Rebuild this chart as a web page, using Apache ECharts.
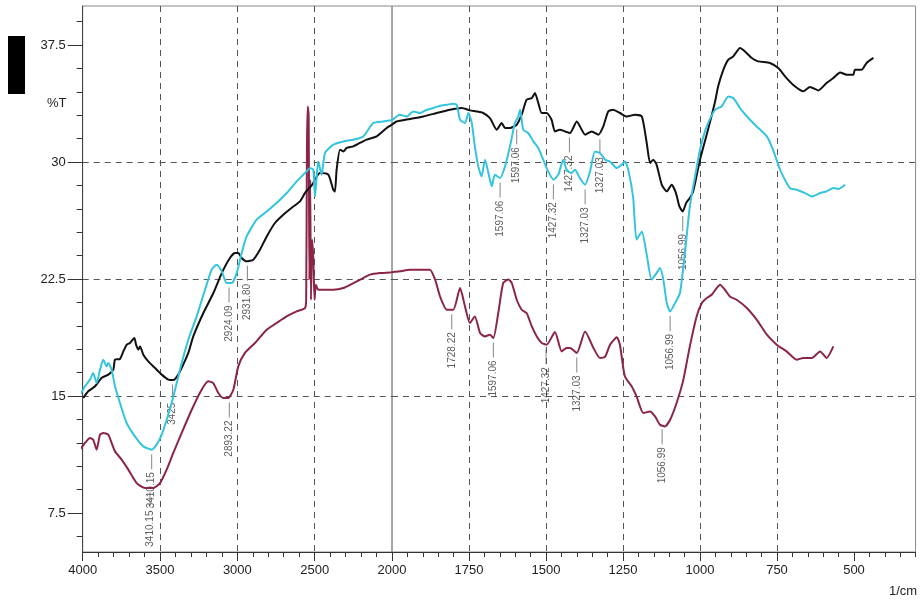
<!DOCTYPE html>
<html>
<head>
<meta charset="utf-8">
<script src="https://cdn.jsdelivr.net/npm/echarts@6/dist/echarts.min.js"></script>
<style>
html, body { margin: 0; padding: 0; background: #fff; }
#chart { width: 920px; height: 601px; }
</style>
</head>
<body>
<div id="chart"></div>
<script>
// spectra, [wavenumber 1/cm, %T]
var blackData = [
    [3996, 14.87], [3964, 15.30], [3920, 15.62], [3877, 16.17], [3834, 16.37], [3802, 16.69], [3791, 17.33], [3759, 17.37],
    [3737, 17.86], [3715, 18.29], [3694, 18.40], [3666, 18.72], [3655, 18.29], [3640, 17.97], [3629, 18.18], [3608, 17.65],
    [3576, 17.22], [3532, 16.79], [3489, 16.37], [3446, 16.05], [3414, 16.02], [3382, 16.37], [3350, 17.01], [3317, 17.76],
    [3285, 18.82], [3220, 20.32], [3155, 21.60], [3101, 22.88], [3048, 23.85], [3015, 24.17], [2994, 24.17], [2972, 23.85],
    [2940, 23.63], [2897, 23.74], [2854, 24.38], [2810, 25.23], [2757, 26.09], [2703, 26.62], [2638, 27.15], [2595, 27.47],
    [2563, 28.01], [2517, 28.54], [2466, 29.29], [2412, 29.19], [2380, 28.22], [2369, 28.10], [2358, 29.51], [2336, 30.79],
    [2315, 30.68], [2293, 30.90], [2250, 31.00], [2207, 31.22], [2164, 31.43], [2099, 31.64], [2034, 32.18], [2000, 32.39],
    [1985, 32.60], [1942, 32.76], [1898, 32.92], [1855, 33.14], [1812, 33.35], [1774, 33.46], [1747, 33.31], [1725, 33.24],
    [1704, 33.14], [1682, 32.82], [1660, 32.07], [1644, 32.50], [1633, 32.18], [1617, 32.18], [1595, 32.39], [1579, 33.03],
    [1563, 33.99], [1546, 34.10], [1536, 34.42], [1525, 33.78], [1514, 33.14], [1498, 33.14], [1482, 32.71], [1471, 31.96],
    [1455, 32.07], [1438, 31.96], [1422, 31.86], [1400, 32.60], [1384, 32.07], [1373, 31.75], [1352, 31.96], [1330, 31.75],
    [1314, 32.28], [1298, 33.24], [1282, 33.35], [1260, 33.14], [1238, 32.92], [1211, 33.03], [1189, 32.92], [1173, 31.22],
    [1162, 29.94], [1152, 30.15], [1141, 29.83], [1124, 28.54], [1108, 28.12], [1092, 28.54], [1078, 28.01], [1067, 27.15],
    [1056, 26.83], [1045, 27.37], [1033, 27.69], [1022, 28.12], [1000, 30.15], [974, 32.07], [951, 33.88], [941, 34.85],
    [924, 35.92], [908, 36.56], [892, 36.77], [870, 37.31], [854, 37.09], [832, 36.67], [811, 36.45], [773, 36.35],
    [746, 36.02], [719, 35.38], [692, 34.85], [665, 34.53], [643, 34.81], [616, 34.59], [589, 35.06], [567, 35.38],
    [545, 35.74], [524, 35.60], [502, 35.60], [497, 35.92], [475, 35.92], [459, 36.35], [437, 36.67]
];
var cyanData = [
    [4168, 13.48], [4125, 14.12], [4082, 14.65], [4050, 14.87], [4018, 15.08], [3985, 15.62], [3953, 16.05], [3932, 16.47],
    [3910, 15.83], [3888, 16.69], [3867, 17.33], [3845, 16.90], [3835, 17.12], [3813, 16.69], [3791, 15.62], [3759, 14.55],
    [3716, 13.27], [3662, 12.41], [3608, 11.77], [3554, 11.56], [3522, 11.88], [3489, 12.52], [3457, 13.48], [3425, 14.55],
    [3392, 15.83], [3360, 17.12], [3317, 18.61], [3263, 20.10], [3209, 21.81], [3166, 23.10], [3134, 23.42], [3101, 22.99],
    [3069, 22.24], [3037, 22.24], [3004, 22.88], [2972, 24.17], [2940, 25.23], [2875, 26.30], [2810, 26.83], [2746, 27.37],
    [2681, 28.01], [2616, 28.76], [2552, 29.40], [2530, 29.61], [2509, 29.51], [2498, 27.79], [2487, 29.08], [2477, 30.04],
    [2455, 29.19], [2433, 30.58], [2380, 31.11], [2315, 31.32], [2250, 31.43], [2186, 31.64], [2121, 32.50], [2056, 32.60],
    [2000, 32.68], [1974, 33.03], [1952, 32.92], [1931, 33.24], [1909, 33.14], [1887, 33.35], [1866, 33.46], [1844, 33.61],
    [1822, 33.67], [1801, 33.74], [1790, 33.67], [1779, 32.71], [1763, 32.50], [1752, 33.14], [1741, 32.50], [1731, 31.00],
    [1720, 29.72], [1709, 29.08], [1698, 30.15], [1687, 29.29], [1676, 28.44], [1666, 29.19], [1649, 28.97], [1633, 29.72],
    [1617, 31.00], [1601, 32.50], [1590, 32.92], [1584, 33.35], [1574, 32.07], [1558, 31.86], [1541, 31.32], [1525, 30.90],
    [1509, 30.15], [1493, 29.40], [1476, 28.87], [1460, 29.19], [1444, 30.15], [1433, 29.51], [1417, 29.29], [1406, 29.51],
    [1390, 28.97], [1373, 28.54], [1357, 29.40], [1341, 30.68], [1325, 30.58], [1308, 30.15], [1292, 30.02], [1270, 29.61],
    [1254, 29.83], [1244, 30.04], [1233, 29.51], [1217, 27.71], [1206, 25.02], [1189, 25.53], [1173, 24.06], [1157, 22.46],
    [1141, 22.88], [1130, 23.20], [1119, 22.46], [1108, 20.96], [1097, 20.42], [1081, 20.96], [1065, 21.60], [1049, 24.17],
    [1033, 27.15], [1016, 29.08], [1000, 30.79], [978, 32.28], [951, 33.35], [930, 33.56], [908, 34.20], [892, 34.10],
    [870, 33.46], [843, 32.82], [816, 32.28], [783, 31.64], [763, 30.79], [740, 29.51], [708, 28.33], [686, 28.22],
    [659, 28.01], [637, 27.79], [610, 28.01], [589, 28.12], [567, 28.33], [551, 28.27], [529, 28.54]
];
var maroonData = [
    [4158, 10.17], [4114, 10.71], [4071, 11.13], [4029, 11.45], [3985, 11.99], [3953, 12.31], [3932, 12.20], [3910, 11.56],
    [3888, 12.52], [3867, 12.63], [3835, 12.52], [3813, 11.99], [3791, 11.45], [3748, 10.92], [3705, 10.28], [3651, 9.42],
    [3597, 9.10], [3544, 9.10], [3500, 9.42], [3457, 10.28], [3414, 11.35], [3360, 12.63], [3295, 14.12], [3231, 15.40],
    [3188, 15.94], [3156, 15.83], [3123, 15.19], [3091, 14.87], [3059, 14.87], [3026, 15.40], [2994, 16.90], [2951, 17.76],
    [2886, 18.40], [2810, 19.25], [2746, 19.68], [2681, 20.10], [2616, 20.42], [2563, 20.64], [2555, 21.17], [2550, 30.79],
    [2545, 33.56], [2539, 33.03], [2534, 22.46], [2529, 28.87], [2524, 21.17], [2517, 25.02], [2509, 23.87], [2501, 21.17],
    [2492, 22.13], [2477, 21.81], [2444, 21.81], [2380, 21.81], [2315, 21.92], [2250, 22.24], [2186, 22.56], [2142, 22.78],
    [2078, 22.88], [2013, 22.92], [2000, 22.94], [1974, 22.99], [1942, 23.10], [1909, 23.10], [1877, 23.10], [1860, 22.46],
    [1844, 21.38], [1822, 20.53], [1801, 20.53], [1779, 21.92], [1763, 20.74], [1747, 19.68], [1731, 20.10], [1714, 19.04],
    [1698, 18.82], [1682, 18.93], [1671, 18.72], [1655, 20.32], [1639, 22.24], [1622, 22.46], [1611, 22.24], [1595, 21.17],
    [1579, 20.53], [1563, 20.32], [1546, 19.46], [1530, 18.82], [1514, 18.40], [1498, 18.29], [1471, 19.10], [1449, 17.86],
    [1433, 18.08], [1422, 18.08], [1400, 17.76], [1373, 19.14], [1346, 18.08], [1325, 17.44], [1308, 17.52], [1292, 18.29],
    [1270, 18.77], [1260, 18.29], [1244, 16.26], [1222, 15.62], [1206, 14.97], [1184, 13.91], [1162, 14.01], [1146, 13.69],
    [1130, 13.16], [1114, 13.05], [1097, 13.48], [1076, 14.55], [1054, 16.05], [1033, 18.18], [1011, 20.10], [994, 20.96],
    [978, 21.28], [962, 21.49], [946, 21.92], [935, 22.13], [919, 21.81], [903, 21.38], [881, 21.17], [848, 20.64],
    [816, 19.89], [783, 18.93], [751, 18.29], [719, 17.86], [686, 17.33], [665, 17.44], [637, 17.44], [610, 17.86],
    [589, 17.44], [567, 18.18]
];

// peak labels printed under the curves
var peakNames = ['3410.15', '3410.15', '3425', '2924.09', '2931.80', '2893.22', '1728.22', '1597.06', '1427.32', '1327.03',
    '1056.99', '1056.99', '1597.06', '1597.06', '1427.32', '1427.32', '1327.03', '1327.03', '1056.99'];
var peakWaves = [3554, 3565, 3419, 3054, 2935, 3052, 1806, 1671, 1500, 1400,
    1123, 1097, 1649, 1595, 1476, 1424, 1373, 1325, 1056];
var peakValues = [11.56, 9.10, 16.02, 22.24, 23.63, 14.87, 20.53, 18.72, 18.29, 17.76,
    13.16, 20.42, 28.97, 32.39, 28.87, 31.86, 28.54, 31.75, 26.83];

var yMajorTicks = [7.5, 15, 22.5, 30, 37.5];
var yMinorTicks = [6, 7.5, 9, 10.5, 12, 13.5, 15, 16.5, 18, 19.5, 21, 22.5, 24, 25.5, 27, 28.5, 30, 31.5, 33, 34.5, 36, 37.5, 39];
var xMajorRight = [2000, 1750, 1500, 1250, 1000, 750, 500];
var xLabelsRight = [1750, 1500, 1250, 1000, 750, 500];

var font = 'Liberation Sans';
var dash = { color: '#555', width: 1, type: [6, 5] };
var plain = function (v) { return String(v); };

function part(data, left) {
    return data.filter(function (p) { return left ? p[0] >= 2000 : p[0] <= 2000; });
}

function curve(data, color, left) {
    return {
        type: 'line',
        xAxisIndex: left ? 0 : 1,
        yAxisIndex: left ? 0 : 2,
        data: part(data, left),
        symbol: 'none',
        smooth: 0.2,
        clip: false,
        silent: true,
        lineStyle: { color: color, width: 2 },
        z: 3
    };
}

function peakSeries(left) {
    var items = [];
    for (var i = 0; i < peakNames.length; i++) {
        if ((peakWaves[i] > 2000) === left) {
            items.push({ name: peakNames[i], value: [peakWaves[i], peakValues[i]] });
        }
    }
    return {
        type: 'scatter',
        xAxisIndex: left ? 0 : 1,
        yAxisIndex: left ? 0 : 2,
        data: items,
        symbol: 'rect',
        symbolSize: [1, 15],
        symbolOffset: [0, 12],
        itemStyle: { color: '#666' },
        silent: true,
        z: 2,
        label: {
            show: true,
            formatter: '{b}',
            position: 'bottom',
            distance: 3,
            rotate: 90,
            align: 'right',
            verticalAlign: 'middle',
            fontSize: 10,
            fontFamily: font,
            color: '#333'
        }
    };
}

var chart = echarts.init(document.getElementById('chart'));
var option = {
    animation: false,
    backgroundColor: '#fff',
    grid: [
        { left: 82.7, top: 6, width: 309.3, height: 546, show: true, borderColor: '#888', borderWidth: 1 },
        { left: 392, top: 6, width: 523.6, height: 546, show: true, borderColor: '#888', borderWidth: 1 }
    ],
    xAxis: [
        {
            gridIndex: 0, type: 'value', position: 'bottom', min: 2000, max: 4000, interval: 500, inverse: true,
            axisLine: { lineStyle: { color: '#333' } },
            axisTick: { length: 9, lineStyle: { color: '#333' } },
            minorTick: { show: true, splitNumber: 5, length: 5, lineStyle: { color: '#333' } },
            axisLabel: { formatter: plain, fontSize: 13, fontFamily: font, color: '#222', margin: 12 },
            splitLine: { show: true, showMinLine: false, showMaxLine: false, lineStyle: dash }
        },
        {
            gridIndex: 1, type: 'value', position: 'bottom', min: 300, max: 2000, inverse: true,
            axisLine: { lineStyle: { color: '#333' } },
            axisTick: { customValues: xMajorRight, length: 9, lineStyle: { color: '#333' } },
            axisLabel: { customValues: xLabelsRight, formatter: plain, fontSize: 13, fontFamily: font, color: '#222', margin: 12 },
            splitLine: { show: true, showMinLine: false, showMaxLine: false, lineStyle: dash }
        },
        {
            gridIndex: 1, type: 'value', position: 'bottom', min: 300, max: 2000, interval: 50, inverse: true,
            axisLine: { show: false },
            axisTick: { length: 5, lineStyle: { color: '#333' } },
            axisLabel: { show: false },
            splitLine: { show: false }
        }
    ],
    yAxis: [
        {
            gridIndex: 0, type: 'value', position: 'left', min: 5, max: 40,
            axisLine: { show: true, lineStyle: { color: '#444' } },
            axisTick: { customValues: yMajorTicks, length: 15, lineStyle: { color: '#333' } },
            axisLabel: { customValues: yMajorTicks, fontSize: 13, fontFamily: font, color: '#222', margin: 17 },
            splitLine: { show: true, showMinLine: false, showMaxLine: false, lineStyle: dash }
        },
        {
            gridIndex: 0, type: 'value', position: 'left', min: 5, max: 40,
            axisLine: { show: false },
            axisTick: { customValues: yMinorTicks, length: 6, lineStyle: { color: '#333' } },
            axisLabel: { show: false },
            splitLine: { show: false }
        },
        {
            gridIndex: 1, type: 'value', position: 'left', min: 5, max: 40,
            axisLine: { show: false },
            axisTick: { show: false, customValues: yMajorTicks },
            axisLabel: { show: false },
            splitLine: { show: true, showMinLine: false, showMaxLine: false, lineStyle: dash }
        }
    ],
    graphic: [
        { type: 'rect', left: 8, top: 36, shape: { width: 17, height: 58 }, style: { fill: '#000' } },
        { type: 'text', left: 47, top: 97, style: { text: '%T', fontSize: 13, fontFamily: font, fill: '#222' } },
        { type: 'text', left: 889, top: 585, style: { text: '1/cm', fontSize: 13, fontFamily: font, fill: '#222' } }
    ],
    series: [
        peakSeries(true), peakSeries(false),
        curve(maroonData, '#8a2549', true), curve(maroonData, '#8a2549', false),
        curve(blackData, '#111', true), curve(blackData, '#111', false),
        curve(cyanData, '#35c4dd', true), curve(cyanData, '#35c4dd', false)
    ]
};
chart.setOption(option);
</script>
</body>
</html>
